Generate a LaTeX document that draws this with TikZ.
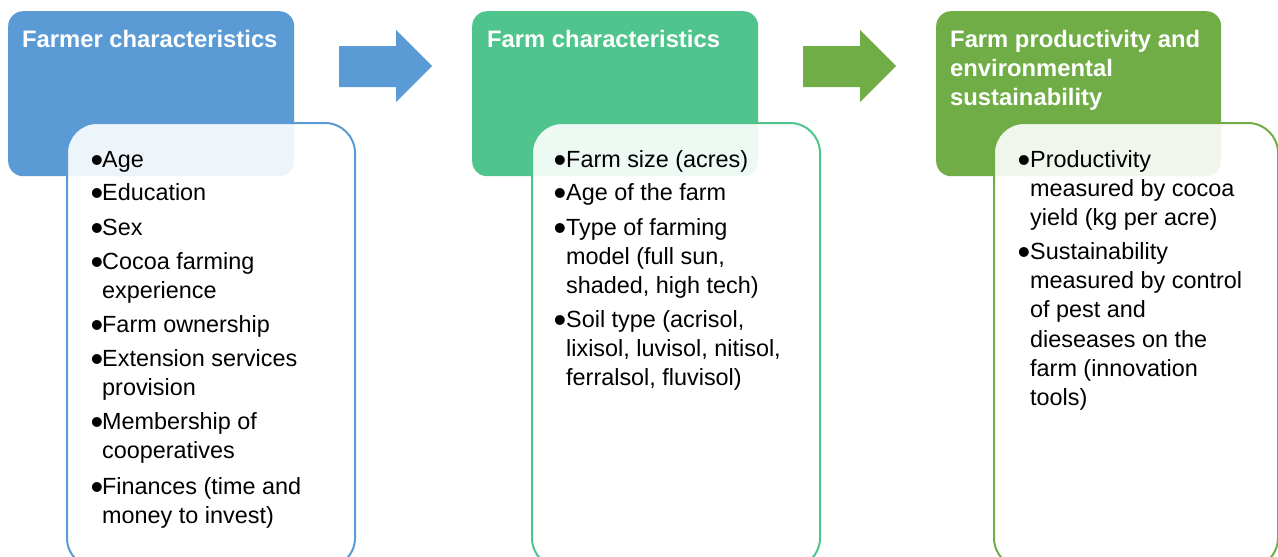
\documentclass[tikz,border=0pt]{standalone}
\usepackage{fontspec}
\usepackage{graphicx}
\setmainfont{Liberation Sans}
\definecolor{cblue}{HTML}{5B9BD5}
\definecolor{cgreenA}{HTML}{4FC48D}
\definecolor{cgreenB}{HTML}{70AD47}
\newcommand\mybul{\raisebox{-5pt}{\scalebox{1.55}{•}}}
\begin{document}
\begin{tikzpicture}[x=1pt,y=-1pt,
  hdrbox/.style={rounded corners=15pt, inner sep=0pt, anchor=north west},
  listbox/.style={rounded corners=30pt, inner sep=0pt, anchor=north west, line width=2pt, fill=white, fill opacity=0.9},
  hdrtext/.style={anchor=base west, inner sep=0pt, text=white, font=\fontsize{23.8}{29}\selectfont\bfseries},
  bodytext/.style={anchor=base west, inner sep=0pt, text=black, font=\fontsize{23.4}{29}\selectfont},
  bultext/.style={anchor=base west, inner sep=0pt, text=black, font=\fontsize{23.4}{29}\selectfont}
]
\useasboundingbox (0,0) rectangle (1278,557);

% header boxes
\node[hdrbox, fill=cblue, minimum width=286pt, minimum height=165pt] (h1) at (8,11) {};
\node[hdrbox, fill=cgreenA, minimum width=286pt, minimum height=165pt] (h2) at (472,11) {};
\node[hdrbox, fill=cgreenB, minimum width=285pt, minimum height=165pt] (h3) at (936,11) {};

% list boxes
\node[listbox, draw=cblue, minimum width=288pt, minimum height=445pt] (l1) at (66,122) {};
\node[listbox, draw=cgreenA, minimum width=288pt, minimum height=445pt] (l2) at (531,122) {};
\node[listbox, draw=cgreenB, minimum width=284pt, minimum height=445pt] (l3) at (993,122) {};

% block arrows
\fill[cblue] (339,46) -- (396,46) -- (396,30) -- (432,66) -- (396,102) -- (396,87) -- (339,87) -- cycle;
\fill[cgreenB] (803,46) -- (860,46) -- (860,30) -- (896,66) -- (860,102) -- (860,87) -- (803,87) -- cycle;

% header texts
\node[hdrtext] (t1) at (22,47) {Farmer characteristics};
\node[hdrtext] (t2) at (487,47) {Farm characteristics};
\node[hdrtext] (t3a) at (950,47) {Farm productivity and};
\node[hdrtext] (t3b) at (950,76) {environmental};
\node[hdrtext] (t3c) at (950,105) {sustainability};

% list 1
\foreach \yy/\tt [count=\i] in {167/Age, 200/Education, 235/Sex, 269/Cocoa farming, 332/Farm ownership, 366/Extension services, 429/Membership of, 494/Finances (time and}{
  \node[bultext] (b1-\i) at (90.5,\yy) {\mybul};
  \node[bodytext] (a1-\i) at (102,\yy) {\tt};
}
\foreach \yy/\tt [count=\i] in {298/experience, 395/provision, 458/cooperatives, 523/money to invest)}{
  \node[bodytext] (c1-\i) at (102,\yy) {\tt};
}

% list 2
\foreach \yy/\tt [count=\i] in {167/Farm size (acres), 200/Age of the farm, 235/Type of farming, 327/{Soil type (acrisol,}}{
  \node[bultext] (b2-\i) at (553.5,\yy) {\mybul};
  \node[bodytext] (a2-\i) at (566,\yy) {\tt};
}
\foreach \yy/\tt [count=\i] in {264/{model (full sun,}, 293/{shaded, high tech)}, 356/{lixisol, luvisol, nitisol,}, 385/{ferralsol, fluvisol)}}{
  \node[bodytext] (c2-\i) at (566,\yy) {\tt};
}

% list 3
\foreach \yy/\tt [count=\i] in {167/Productivity, 259/Sustainability}{
  \node[bultext] (b3-\i) at (1017.5,\yy) {\mybul};
  \node[bodytext] (a3-\i) at (1030,\yy) {\tt};
}
\foreach \yy/\tt [count=\i] in {196/measured by cocoa, 225/yield (kg per acre), 288/measured by control, 317/of pest and, 347/dieseases on the, 376/farm (innovation, 405/tools)}{
  \node[bodytext] (c3-\i) at (1030,\yy) {\tt};
}
\end{tikzpicture}
\end{document}
